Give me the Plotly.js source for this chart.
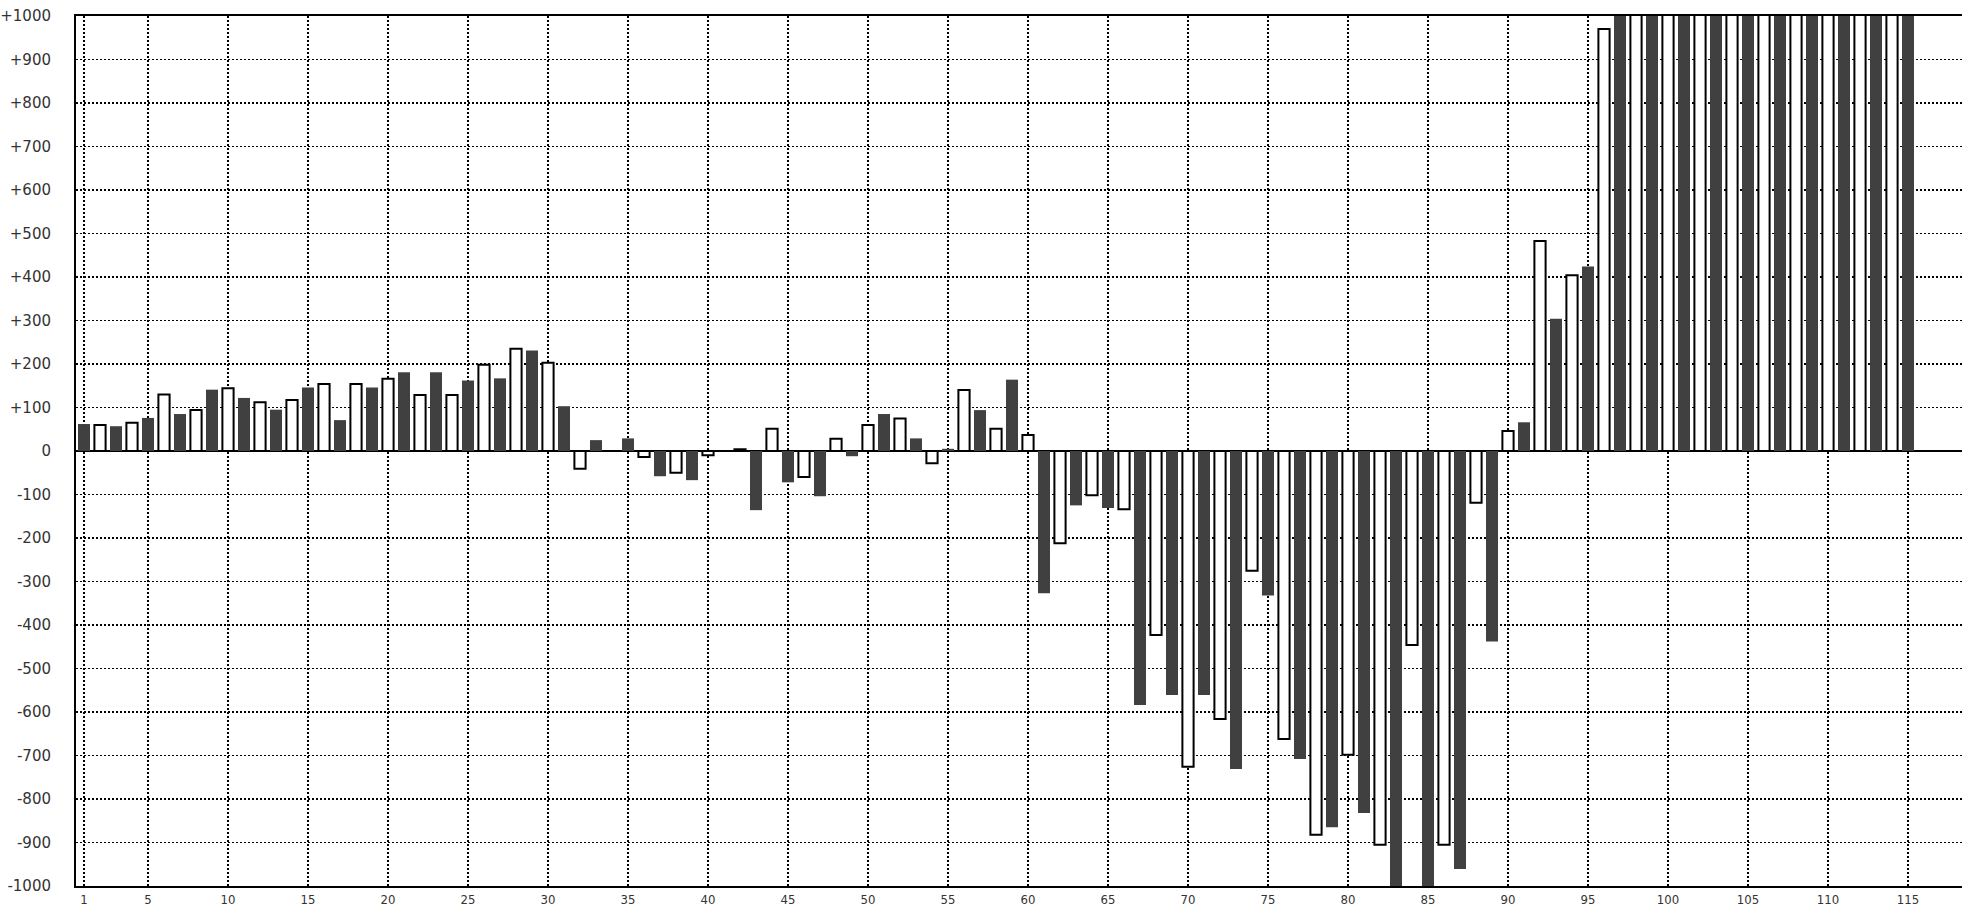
<!DOCTYPE html>
<html>
<head>
<meta charset="utf-8">
<script src="https://cdn.plot.ly/plotly-3.0.1.min.js"></script>
<style>
  html, body { margin: 0; padding: 0; background: #fff; }
  #chart { width: 1962px; height: 908px; }
</style>
</head>
<body>
<div id="chart"></div>
<script>
// Dark series (odd positions)
const darkX = [1,3,5,7,9,11,13,15,17,19,21,23,25,27,29,31,33,35,37,39,41,43,45,47,49,51,53,55,57,59,61,63,65,67,69,71,73,75,77,79,81,83,85,87,89,91,93,95,97,99,101,103,105,107,109,111,113,115];
const darkY = [62,57,76,85,141,122,95,146,71,146,181,181,162,167,231,103,25,29,-58,-67,0,-136,-72,-104,-12,85,29,5,94,164,-327,-125,-131,-584,-561,-561,-731,-332,-708,-865,-832,-1050,-1050,-961,-438,66,304,424,1100,1100,1100,1100,1100,1100,1100,1100,1100,1100];

// White series (even positions)
const whiteX = [2,4,6,8,10,12,14,16,18,20,22,24,26,28,30,32,34,36,38,40,42,44,46,48,50,52,54,56,58,60,62,64,66,68,70,72,74,76,78,80,82,84,86,88,90,92,94,96,98,100,102,104,106,108,110,112,114];
const whiteY = [60,65,130,94,144,112,117,154,154,166,129,129,198,235,203,-41,0,-14,-50,-10,4,51,-60,28,60,75,-28,140,51,37,-212,-102,-134,-423,-726,-616,-275,-662,-882,-698,-905,-446,-905,-119,46,483,404,970,1100,1100,1100,1100,1100,1100,1100,1100,1100];

// Tick labels
const xTickVals = [1,5,10,15,20,25,30,35,40,45,50,55,60,65,70,75,80,85,90,95,100,105,110,115];
const xTickText = ["1","5","10","15","20","25","30","35","40","45","50","55","60","65","70","75","80","85","90","95","100","105","110","115"];
const yTickVals = [-1000,-900,-800,-700,-600,-500,-400,-300,-200,-100,0,100,200,300,400,500,600,700,800,900,1000];
const yTickText = ["-1000","-900","-800","-700","-600","-500","-400","-300","-200","-100","0","+100","+200","+300","+400","+500","+600","+700","+800","+900","+1000"];

const traces = [
  {
    type: 'bar', x: darkX, y: darkY, width: 0.75,
    marker: { color: '#404040', line: { width: 0 } },
    hoverinfo: 'x+y', showlegend: false
  },
  {
    type: 'bar', x: whiteX, y: whiteY, width: 0.7,
    marker: { color: '#ffffff', line: { width: 2, color: '#000000' } },
    hoverinfo: 'x+y', showlegend: false
  }
];

const layout = {
  width: 1962, height: 908,
  margin: { l: 76, r: 0, t: 16, b: 22, pad: 0 },
  paper_bgcolor: '#ffffff', plot_bgcolor: '#ffffff',
  barmode: 'overlay',
  showlegend: false,
  xaxis: {
    range: [0.5, 118.375],
    tickmode: 'array', tickvals: xTickVals, ticktext: xTickText,
    showgrid: true, gridcolor: '#000000', gridwidth: 1.3, griddash: '2px,2px',
    showline: true, linecolor: '#000000', linewidth: 2, mirror: true,
    zeroline: false,
    ticks: '', ticklabelstandoff: 0,
    tickfont: { family: 'DejaVu Sans Condensed, Liberation Sans Narrow, DejaVu Sans', size: 13, color: '#333' },
    fixedrange: true
  },
  yaxis: {
    range: [-1000, 1000],
    tickmode: 'array', tickvals: yTickVals, ticktext: yTickText,
    showgrid: true, gridcolor: '#000000', gridwidth: 1.3, griddash: '2px,2px',
    showline: true, linecolor: '#000000', linewidth: 2, mirror: false,
    zeroline: true, zerolinecolor: '#000000', zerolinewidth: 2,
    ticks: 'outside', ticklen: 20, tickcolor: 'rgba(0,0,0,0)',
    tickfont: { family: 'DejaVu Sans', size: 15, color: '#333' },
    fixedrange: true
  }
};

Plotly.newPlot('chart', traces, layout, { displayModeBar: false, staticPlot: true });
</script>
</body>
</html>
